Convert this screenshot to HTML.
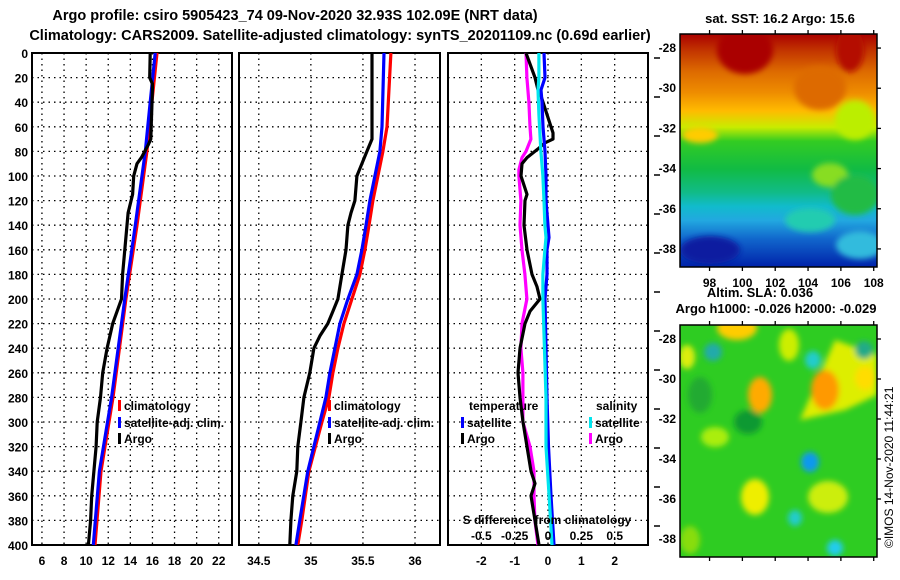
<!DOCTYPE html>
<html><head><meta charset="utf-8">
<style>
html,body{margin:0;padding:0;background:#fff;}
svg{display:block;font-family:"Liberation Sans",Arial,sans-serif;font-weight:bold;}
</style></head>
<body>
<svg id="chart" width="900" height="580" viewBox="0 0 900 580" xmlns="http://www.w3.org/2000/svg">
<defs>
<linearGradient id="sstGrad" x1="0" y1="0" x2="0" y2="1">
<stop offset="0" stop-color="#aa0000"/><stop offset="0.07" stop-color="#c23400"/>
<stop offset="0.16" stop-color="#dd6a00"/><stop offset="0.25" stop-color="#ee8c00"/>
<stop offset="0.33" stop-color="#ffbb00"/><stop offset="0.40" stop-color="#c8ec00"/>
<stop offset="0.46" stop-color="#33cc22"/><stop offset="0.58" stop-color="#11bb44"/>
<stop offset="0.68" stop-color="#11bb88"/><stop offset="0.74" stop-color="#11bbcc"/>
<stop offset="0.80" stop-color="#22a8e0"/><stop offset="0.88" stop-color="#1166cc"/>
<stop offset="1" stop-color="#0022aa"/></linearGradient>
<filter id="blur4"><feGaussianBlur stdDeviation="3"/></filter>
<filter id="blur2"><feGaussianBlur stdDeviation="3"/></filter>
<clipPath id="c1"><rect x="680" y="34" width="197" height="233"/></clipPath>
<clipPath id="c2"><rect x="680" y="325" width="197" height="232"/></clipPath>
</defs>

<text x="295" y="20" font-size="14.5" text-anchor="middle">Argo profile: csiro 5905423_74 09-Nov-2020 32.93S 102.09E (NRT data)</text>
<text x="340" y="40" font-size="14.5" text-anchor="middle">Climatology: CARS2009. Satellite-adjusted climatology: synTS_20201109.nc (0.69d earlier)</text>

<g id="panels"></g>

<!-- SST map -->
<g>
<g clip-path="url(#c1)">
<rect x="680" y="34" width="197" height="233" fill="url(#sstGrad)"/>
<g filter="url(#blur2)">
<ellipse cx="745" cy="50" rx="28" ry="24" fill="#aa0000"/>
<ellipse cx="850" cy="50" rx="14" ry="22" fill="#b41000"/>
<ellipse cx="820" cy="88" rx="26" ry="22" fill="#dd6a00"/>
<ellipse cx="855" cy="120" rx="20" ry="20" fill="#bbee00"/>
<ellipse cx="830" cy="175" rx="18" ry="12" fill="#88dd22"/>
<ellipse cx="700" cy="135" rx="18" ry="8" fill="#ffcc00"/>
<ellipse cx="855" cy="195" rx="24" ry="20" fill="#22bb44"/>
<ellipse cx="810" cy="220" rx="25" ry="12" fill="#22ccb0"/>
<ellipse cx="860" cy="245" rx="24" ry="14" fill="#33bbdd"/>
<ellipse cx="710" cy="250" rx="30" ry="14" fill="#0a1aa0"/>
</g></g>
<rect x="680" y="34" width="197" height="233" fill="none" stroke="#000" stroke-width="1.5"/>
<text x="780" y="23" font-size="13" text-anchor="middle">sat. SST: 16.2 Argo: 15.6</text>
<g id="sstAxes" font-size="12"></g>
</g>

<!-- SLA map -->
<g>
<g clip-path="url(#c2)">
<rect x="680" y="325" width="197" height="232" fill="#2ecc22"/>
<g filter="url(#blur4)">
<ellipse cx="737" cy="328" rx="20" ry="12" fill="#ffcc00"/>
<ellipse cx="789" cy="345" rx="10" ry="16" fill="#ccee00"/>
<ellipse cx="760" cy="395" rx="12" ry="18" fill="#ffaa00"/>
<path d="M800,420 L835,340 L877,355 L877,395 L845,410 Z" fill="#ddee00"/>
<ellipse cx="825" cy="390" rx="14" ry="20" fill="#ff9900"/>
<ellipse cx="865" cy="378" rx="10" ry="12" fill="#ffdd00"/>
<ellipse cx="687" cy="357" rx="8" ry="12" fill="#ddee11"/>
<ellipse cx="715" cy="437" rx="14" ry="10" fill="#aaee11"/>
<ellipse cx="755" cy="497" rx="14" ry="18" fill="#eeee00"/>
<ellipse cx="828" cy="497" rx="20" ry="16" fill="#ccee11"/>
<ellipse cx="690" cy="540" rx="10" ry="14" fill="#88dd11"/>
<ellipse cx="748" cy="422" rx="14" ry="12" fill="#119933"/>
<ellipse cx="700" cy="395" rx="12" ry="18" fill="#22aa33"/>
<ellipse cx="713" cy="352" rx="9" ry="9" fill="#22aaaa"/>
<ellipse cx="813" cy="360" rx="8" ry="9" fill="#22cccc"/>
<ellipse cx="810" cy="462" rx="9" ry="10" fill="#1199ee"/>
<ellipse cx="795" cy="518" rx="7" ry="8" fill="#22cccc"/>
<ellipse cx="835" cy="548" rx="8" ry="8" fill="#22ccee"/>
<ellipse cx="864" cy="350" rx="9" ry="9" fill="#22aa88"/>
</g></g>
<rect x="680" y="325" width="197" height="232" fill="none" stroke="#000" stroke-width="1.5"/>
<text x="760" y="297" font-size="13" text-anchor="middle">Altim. SLA: 0.036</text>
<text x="776" y="313" font-size="13" text-anchor="middle">Argo h1000: -0.026 h2000: -0.029</text>
<g id="slaAxes" font-size="12"></g>
<text transform="translate(893,548) rotate(-90)" font-size="12" font-weight="normal">©IMOS 14-Nov-2020 11:44:21</text>
</g>
</svg>
<script>
// ---------- data ----------
const depthTicks = [0,20,40,60,80,100,120,140,160,180,200,220,240,260,280,300,320,340,360,380,400];
const tTicks = [6,8,10,12,14,16,18,20,22];
const sTicks = [34.5,35,35.5,36];
const dTicks = [-2,-1,0,1,2];
const sdTickLabels = ["-0.5","-0.25","0","0.25","0.5"];
const sdTicks = [-0.5,-0.25,0,0.25,0.5];

const climTDepth = [0,40,80,140,200,280,340,400];
const climT = [16.41,15.95,15.5,14.6,13.6,12.43,11.34,10.8];
const satTDepth = [0,40,80,140,200,280,340,400];
const satT = [16.25,15.8,15.35,14.45,13.5,12.3,11.2,10.65];
const argoTDepth = [0,20,25,30,70,75,85,90,100,115,130,150,180,200,220,240,260,280,300,320,340,360,380,400];
const argoT = [15.8,15.75,16.0,16.0,15.85,15.6,15.0,14.6,14.3,14.2,13.8,13.6,13.3,13.2,12.4,11.9,11.5,11.3,11.0,10.9,10.7,10.5,10.4,10.2];

const climSDepth = [0,60,80,100,120,140,160,180,200,220,240,260,280,300,340,380,400];
const climS = [35.769,35.731,35.692,35.644,35.596,35.558,35.519,35.471,35.394,35.317,35.26,35.212,35.173,35.106,34.981,34.913,34.875];
const satSDepth = [0,60,80,100,120,140,160,180,200,220,240,260,280,300,340,380,400];
const satS = [35.702,35.683,35.663,35.615,35.567,35.529,35.49,35.442,35.356,35.279,35.231,35.183,35.144,35.087,34.971,34.894,34.856];
const argoSDepth = [0,70,80,90,100,120,130,140,160,180,200,210,220,230,240,260,280,300,320,340,360,380,400];
const argoS = [35.587,35.587,35.538,35.49,35.442,35.423,35.385,35.356,35.337,35.298,35.26,35.212,35.163,35.087,35.029,34.99,34.933,34.904,34.875,34.865,34.827,34.808,34.798];

const argoTdDepth = [0,20,30,35,50,65,70,73,78,85,90,100,115,120,140,160,180,190,200,210,220,240,260,280,300,320,340,350,360,380,400];
const argoTd = [-0.66,-0.39,-0.3,-0.21,-0.03,0.15,0.15,-0.09,-0.3,-0.63,-0.78,-0.81,-0.63,-0.69,-0.72,-0.63,-0.48,-0.33,-0.24,-0.54,-0.69,-0.84,-0.9,-0.84,-0.75,-0.63,-0.51,-0.39,-0.51,-0.39,-0.27];
const argoSdDepth = [0,20,40,60,70,80,85,95,100,120,140,160,180,200,220,240,260,280,300,320,340,360,380,400];
const argoSd = [-0.165,-0.158,-0.143,-0.135,-0.128,-0.165,-0.195,-0.218,-0.218,-0.203,-0.21,-0.195,-0.173,-0.158,-0.195,-0.203,-0.188,-0.188,-0.188,-0.135,-0.105,-0.105,-0.098,-0.075];
const satTdDepth = [0,20,30,40,60,80,100,120,140,150,160,180,200,280,320,360,400];
const satTd = [-0.12,-0.09,-0.21,-0.18,-0.15,-0.09,-0.06,-0.06,0,0.03,-0.03,-0.03,-0.09,-0.03,0.015,0.09,0.18];
const satSdDepth = [0,20,30,50,80,100,120,140,150,160,180,200,280,320,360,400];
const satSd = [-0.068,-0.068,-0.075,-0.068,-0.053,-0.038,-0.03,-0.023,-0.015,-0.023,-0.038,-0.038,-0.015,-0.015,0.008,0.03];

const latTicks = [-28,-30,-32,-34,-36,-38];
const lonTicks = [98,100,102,104,106,108];

// ---------- helpers ----------
const NS = "http://www.w3.org/2000/svg";
function mk(tag, attrs, parent){
  const e = document.createElementNS(NS, tag);
  for (const k in attrs) e.setAttribute(k, attrs[k]);
  parent.appendChild(e);
  return e;
}
const TOP = 53, BOT = 545;
const yD = d => TOP + (d/400)*(BOT-TOP);
function lin(d0,d1,r0,r1){ return v => r0 + (v-d0)/(d1-d0)*(r1-r0); }

const panelsG = document.getElementById('panels');
const P = [
  {x0:32, x1:232, sx: lin(5.1,23.2,32,232)},
  {x0:239, x1:440, sx: lin(34.31,36.24,239,440)},
  {x0:448, x1:648, sx: lin(-3,3,448,648)}
];
const sdx = lin(-0.75,0.75,448,648);

function drawFrame(p, idx, ticks, labels){
  const g = mk('g', {}, panelsG);
  
  
  const grid = mk('g', {stroke:'#000','stroke-width':1.3,'stroke-dasharray':'1.5,4'}, g);
  
  
  depthTicks.forEach(d => { if (d>0 && d<400) mk('line',{x1:p.x0,x2:p.x1,y1:yD(d),y2:yD(d)},grid); });
  ticks.forEach(t => mk('line',{x1:p.sx(t),x2:p.sx(t),y1:TOP,y2:BOT},grid));
  const xl = mk('g', {'font-size':12,'text-anchor':'middle'}, g);
  
  
  ticks.forEach((t,i) => { const tx = mk('text',{x:p.sx(t),y:565},xl); tx.textContent = labels[i]; });
  const fr = mk('rect',{x:p.x0,y:TOP,width:p.x1-p.x0,height:BOT-TOP,fill:'none',stroke:'#000','stroke-width':2},g);
  
  
  return g;
}
function line(g, depths, vals, sx, color, name){
  const pts = depths.map((d,i) => sx(vals[i]).toFixed(1)+','+yD(d).toFixed(1)).join(' ');
  const pl = mk('polyline',{points:pts,fill:'none',stroke:color,'stroke-width':3.2,'stroke-linejoin':'round'},g);
  
  
}
function legend(g, x, y, color, label, name){
  const lg = mk('g',{},g);
  
  
  mk('rect',{x:x,y:y-10,width:3,height:11,fill:color},lg);
  const t = mk('text',{x:x+6,y:y,'font-size':12},lg); t.textContent = label;
}

// y axis labels
const yl = mk('g',{'font-size':12,'text-anchor':'end'},panelsG);


depthTicks.forEach(d => { const t = mk('text',{x:28,y:yD(d)+5},yl); t.textContent = d; });

// right-side tick marks
const rt = mk('g',{stroke:'#000','stroke-width':1.5},panelsG);


for (let i=0;i<13;i++){ mk('line',{x1:654,x2:660,y1:58+i*39,y2:58+i*39},rt); }

// panel 1 temperature
const g1 = drawFrame(P[0],0,tTicks,tTicks.map(String));
line(g1, climTDepth, climT, P[0].sx, '#ff0000', 'climatology-temperature-line');
line(g1, satTDepth, satT, P[0].sx, '#0000ff', 'satellite-adj-temperature-line');
line(g1, argoTDepth, argoT, P[0].sx, '#000000', 'argo-temperature-line');
legend(g1,118,410,'#ff0000','climatology','legend-climatology');
legend(g1,118,427,'#0000ff','satellite-adj. clim.','legend-satellite-adj');
legend(g1,118,443,'#000000','Argo','legend-argo');

// panel 2 salinity
const g2 = drawFrame(P[1],1,sTicks,sTicks.map(String));
line(g2, climSDepth, climS, P[1].sx, '#ff0000', 'climatology-salinity-line');
line(g2, satSDepth, satS, P[1].sx, '#0000ff', 'satellite-adj-salinity-line');
line(g2, argoSDepth, argoS, P[1].sx, '#000000', 'argo-salinity-line');
legend(g2,328,410,'#ff0000','climatology','legend-climatology-2');
legend(g2,328,427,'#0000ff','satellite-adj. clim.','legend-satellite-adj-2');
legend(g2,328,443,'#000000','Argo','legend-argo-2');

// panel 3 differences
const g3 = drawFrame(P[2],2,dTicks,dTicks.map(String));
line(g3, argoSdDepth, argoSd, sdx, '#ff00ff', 'argo-salinity-difference-line');
line(g3, argoTdDepth, argoTd, P[2].sx, '#000000', 'argo-temperature-difference-line');
line(g3, satTdDepth, satTd, P[2].sx, '#0000ff', 'satellite-temperature-difference-line');
line(g3, satSdDepth, satSd, sdx, '#00e5ee', 'satellite-salinity-difference-line');
const th = mk('text',{x:469,y:410,'font-size':12},g3); th.textContent='temperature';


const sh = mk('text',{x:596,y:410,'font-size':12},g3); sh.textContent='salinity';


legend(g3,461,427,'#0000ff','satellite','legend-temp-satellite');
legend(g3,461,443,'#000000','Argo','legend-temp-argo');
legend(g3,589,427,'#00e5ee','satellite','legend-sal-satellite');
legend(g3,589,443,'#ff00ff','Argo','legend-sal-argo');
const sdt = mk('text',{x:547,y:524,'font-size':12,'text-anchor':'middle'},g3); sdt.textContent='S difference from climatology';


const sdl = mk('g',{'font-size':12,'text-anchor':'middle'},g3);


sdTicks.forEach((v,i) => { const t = mk('text',{x:sdx(v),y:540},sdl); t.textContent = sdTickLabels[i]; });

// map axes
function mapAxes(id, top, bot, showLon){
  const g = document.getElementById(id);
  const ly = lin(-27.3,-38.9,top,bot);
  const lx = lin(96.2,108.2,680,877);
  latTicks.forEach(v => {
    mk('line',{x1:877,x2:881,y1:ly(v),y2:ly(v),stroke:'#000','stroke-width':1.3},g);
    const t = mk('text',{x:676,y:ly(v)+4,'text-anchor':'end'},g); t.textContent = v;
  });
  lonTicks.forEach(v => {
    mk('line',{x1:lx(v),x2:lx(v),y1:top-4,y2:top,stroke:'#000','stroke-width':1.3},g);
    mk('line',{x1:lx(v),x2:lx(v),y1:bot,y2:bot+4,stroke:'#000','stroke-width':1.3},g);
    if (showLon){ const t = mk('text',{x:lx(v),y:bot+20,'text-anchor':'middle'},g); t.textContent = v; }
  });
}
mapAxes('sstAxes',34,267,true);
mapAxes('slaAxes',325,557,false);
</script>
</body></html>
